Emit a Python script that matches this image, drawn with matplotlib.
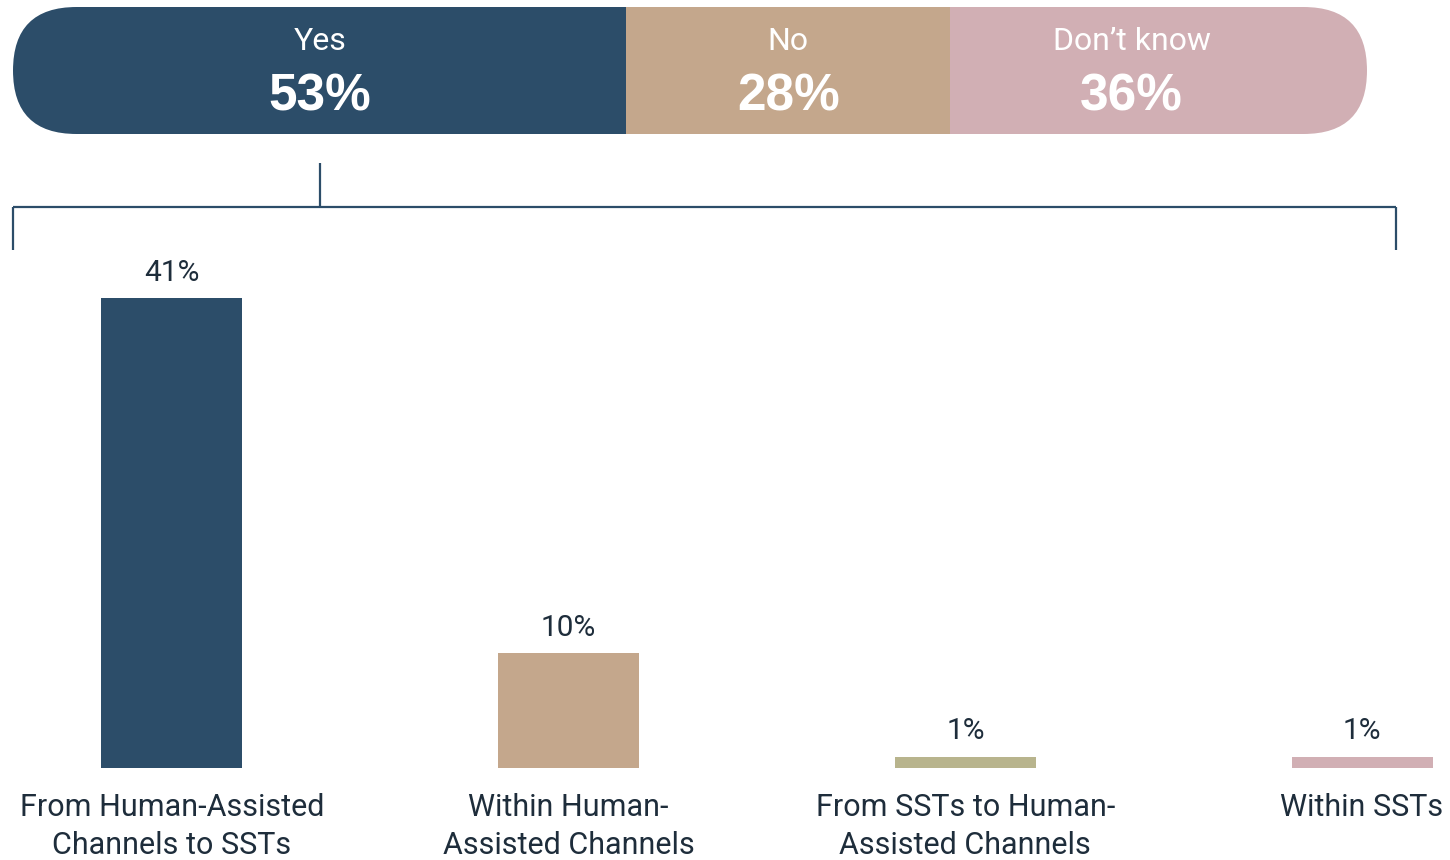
import matplotlib
matplotlib.use("Agg")
import matplotlib.pyplot as plt
from matplotlib.patches import FancyBboxPatch
from matplotlib.lines import Line2D

# Overall answer split
answer_labels = ["Yes", "No", "Don\u2019t know"]
answer_values = [53, 28, 36]
answer_colors = ["#2C4D69", "#C4A78C", "#D1AFB4"]

# Breakdown of the "Yes" answers
categories = [
    "From Human-Assisted\nChannels to SSTs",
    "Within Human-\nAssisted Channels",
    "From SSTs to Human-\nAssisted Channels",
    "Within SSTs",
]
category_values = [41, 10, 1, 1]
category_colors = ["#2C4D69", "#C4A78C", "#B8B48D", "#D1AFB4"]

W, H = 1450, 860
fig = plt.figure(figsize=(W / 100, H / 100), dpi=100)
fig.patch.set_facecolor("white")

text_dark = "#1E2D3B"
line_col = "#2C4D69"
label_font = ["Roboto", "DejaVu Sans"]
bold_font = ["Liberation Sans", "DejaVu Sans"]


def fbox(x0, y0, x1, y1):
    """Pixel box (top-left origin) -> figure fraction rect."""
    return [x0 / W, 1 - y1 / H, (x1 - x0) / W, (y1 - y0) / H]


# ---- stacked pill bar -------------------------------------------------
pill = fbox(13, 7, 1367, 134)
ax_top = fig.add_axes(pill)
total = sum(answer_values)
ax_top.set_xlim(0, total)
ax_top.set_ylim(0, 1)
ax_top.axis("off")

px_w = pill[2] * W
px_h = pill[3] * H
clip = FancyBboxPatch(
    (0, 0), 1, 1,
    boxstyle=f"round,pad=0,rounding_size={0.5 * px_h / px_w}",
    mutation_aspect=px_w / px_h,
    transform=ax_top.transAxes, facecolor="none", edgecolor="none",
)
ax_top.add_patch(clip)

left = 0
centers = []
for lab, val, col in zip(answer_labels, answer_values, answer_colors):
    bars = ax_top.barh(0.5, val, left=left, height=1.0, color=col,
                       edgecolor="none", linewidth=0)
    for b in bars:
        b.set_clip_path(clip)
    centers.append(left + val / 2)
    left += val

for i, (lab, val) in enumerate(zip(answer_labels, answer_values)):
    cx = centers[i]
    if i == len(answer_values) - 1:
        cx -= 0.02 * total  # keep text clear of the rounded end
    ax_top.text(cx, 0.73, lab, ha="center", va="center", color="white",
                fontsize=23, family=label_font)
    ax_top.text(cx, 0.29, f"{val}%", ha="center", va="center",
                color="white", fontsize=37, family=bold_font,
                fontweight="bold")

# ---- bracket linking "Yes" to its breakdown --------------------------
yes_center_px = 13 + centers[0] / total * px_w
bx0, bx1 = 13, 1396
y_stub, y_bar, y_end = 163, 207, 250
segs = [
    ([yes_center_px, yes_center_px], [y_stub, y_bar]),
    ([bx0, bx1], [y_bar, y_bar]),
    ([bx0, bx0], [y_bar, y_end]),
    ([bx1, bx1], [y_bar, y_end]),
]
for xs, ys in segs:
    fig.add_artist(Line2D([x / W for x in xs], [1 - y / H for y in ys],
                          transform=fig.transFigure, color=line_col,
                          linewidth=1.6, solid_capstyle="butt"))

# ---- breakdown bars --------------------------------------------------
base_px, top_px = 768, 250
px_per_unit = (768 - 298) / 41
ax = fig.add_axes(fbox(0, top_px, W, base_px))
first_c, last_c = 172, 1362
u = 3 / (last_c - first_c)
ax.set_xlim(-first_c * u, (W - first_c) * u)
ax.set_ylim(0, (base_px - top_px) / px_per_unit)

xs = list(range(len(categories)))
ax.bar(xs, category_values, width=141 * u, color=category_colors,
       edgecolor="none", linewidth=0)
for x, v in zip(xs, category_values):
    ax.annotate(f"{v}%", (x, v), xytext=(0, 12.5), textcoords="offset points",
                ha="center", va="baseline", fontsize=21.5, color=text_dark,
                family=label_font)

ax.set_xticks(xs)
ax.set_xticklabels(categories, fontsize=22, color=text_dark,
                   family=label_font, linespacing=1.38)
ax.tick_params(axis="x", length=0, pad=18)
ax.set_yticks([])
for s in ax.spines.values():
    s.set_visible(False)
ax.patch.set_alpha(0)

fig.savefig("out.png", dpi=100, facecolor="white")
